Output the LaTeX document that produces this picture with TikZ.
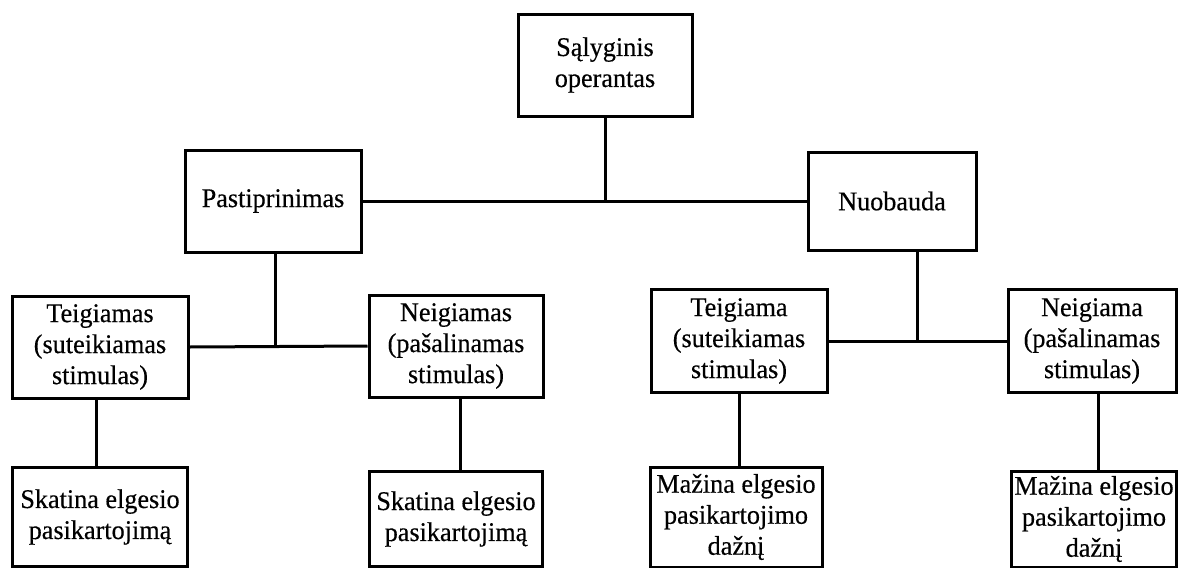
\documentclass[tikz,border=0pt]{standalone}
\usepackage{fontspec}
\setmainfont{Liberation Serif}[FakeStretch=0.97,FakeBold=0.4]
\tikzstyle{block}=[draw,fill=white,rectangle,line width=3pt,align=center,inner sep=0pt,minimum width=174pt,minimum height=102pt]
\tikzstyle{every node}=[font=\fontsize{27}{31}\selectfont]

\begin{document}
\begin{tikzpicture}[x=1pt,y=-1pt,line width=3pt]
    \useasboundingbox (0,0) rectangle (1179,568);

    \node[block] (root) at (605,65) {Sąlyginis\\operantas};
    \node[block, minimum width=176pt] (past) at (273,201) {Pastiprinimas};
    \node[block, minimum width=168pt, minimum height=98pt] (nuob) at (892,201) {Nuobauda};
    \draw (past.east) -- (nuob.west);
    \draw (root.south) -- (root.south |- past.east);

    \node[block, minimum width=176pt] (teigL) at (100,347) {Teigiamas\\(suteikiamas\\stimulas)};
    \node[block] (neigL) at (456,346) {Neigiamas\\(pašalinamas\\stimulas)};
    \draw (teigL.east) -- (neigL.west);
    \draw ([xshift=2pt]past.south) -- ([xshift=2pt]past.south |- neigL.west);

    \node[block, minimum width=176pt, minimum height=103pt] (teigR) at (739,341) {Teigiama\\(suteikiamas\\stimulas)};
    \node[block, minimum width=168pt, minimum height=103pt] (neigR) at (1092,341) {Neigiama\\(pašalinamas\\stimulas)};
    \draw (teigR.east) -- (neigR.west);
    \draw ([xshift=25pt]nuob.south) -- ([xshift=25pt]nuob.south |- teigR.east);

    \node[block, minimum width=175pt, minimum height=99pt] (skatL) at (100,517) {Skatina elgesio\\pasikartojimą};
    \node[block, minimum width=173pt, minimum height=95pt] (skatR) at (456,519) {Skatina elgesio\\pasikartojimą};
    \node[block, minimum width=172pt, minimum height=100pt] (mazL) at (736,517) {Mažina elgesio\\pasikartojimo\\dažnį};
    \node[block, minimum width=165pt, minimum height=96pt] (mazR) at (1094,519) {Mažina elgesio\\pasikartojimo\\dažnį};
    \draw ([xshift=-4pt]teigL.south) -- ([xshift=-4pt]teigL.south |- skatL.north);
    \draw ([xshift=4pt]neigL.south) -- ([xshift=4pt]neigL.south |- skatR.north);
    \draw (teigR.south) -- (teigR.south |- mazL.north);
    \draw ([xshift=6pt]neigR.south) -- ([xshift=6pt]neigR.south |- mazR.north);
\end{tikzpicture}
\end{document}
